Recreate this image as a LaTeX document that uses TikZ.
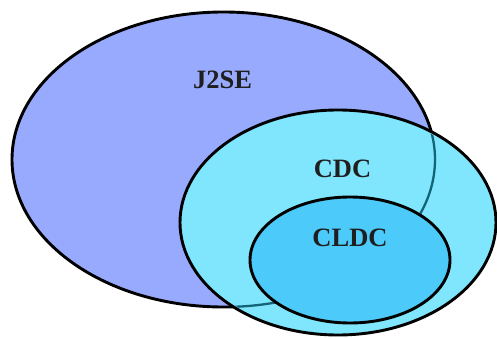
\documentclass[tikz,border=0pt]{standalone}
\usepackage{fontspec}
\setmainfont{Liberation Serif}
\usetikzlibrary{shapes.geometric}
\definecolor{jblue}{RGB}{152,170,253}
\definecolor{ccyan}{RGB}{128,230,253}
\definecolor{lcyan}{RGB}{76,202,250}
\definecolor{tealline}{RGB}{20,100,120}
\tikzset{
  setshape/.style={ellipse, draw=black, line width=2.9pt, inner sep=0pt},
  lbl/.style={font=\fontsize{26.5}{26.5}\selectfont\bfseries, text=black!88, inner sep=0pt}
}
\begin{document}
\begin{tikzpicture}[x=1pt,y=-1pt]
\useasboundingbox (0,0) rectangle (497,339);
\node[setshape, fill=jblue, minimum width=423pt, minimum height=295pt] (j2se) at (223.5,159.5) {};
\node[setshape, fill=ccyan, minimum width=316pt, minimum height=225pt] (cdc) at (338,222.5) {};
\begin{scope}
  \clip (338,222.5) ellipse [x radius=156pt, y radius=110.5pt];
  \draw[tealline, line width=2.3pt] (223.5,159.5) ellipse [x radius=211.5pt, y radius=147.5pt];
\end{scope}
\node[setshape, fill=lcyan, minimum width=200pt, minimum height=126pt] (cldc) at (350,260) {};
\node[lbl] (t1) at (222.5,79.5) {J2SE};
\node[lbl] (t2) at (342.5,168.5) {CDC};
\node[lbl] (t3) at (350,237.5) {CLDC};
\end{tikzpicture}
\end{document}
